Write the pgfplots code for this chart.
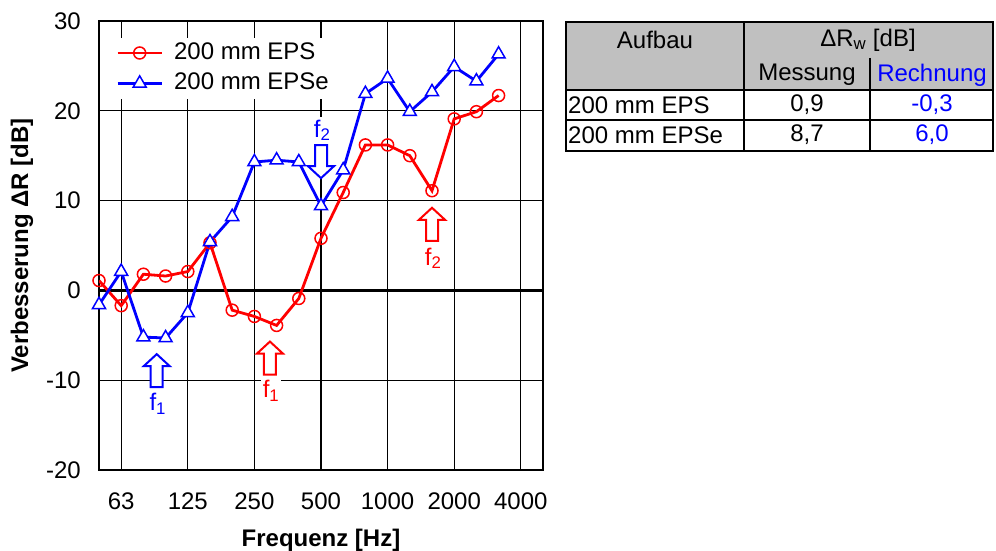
\documentclass[border=0pt]{standalone}
\usepackage{fontspec}
\setmainfont{Liberation Sans}
\usepackage{pgfplots}
\pgfplotsset{compat=1.18}
\definecolor{hdrgray}{RGB}{192,192,192}
\newcommand{\hollowup}[3]{\draw[#1, line width=2pt, fill=white, line join=miter] (axis cs:#2,#3) -- ++(-13pt,-12pt) -- ++(7pt,0pt) -- ++(0pt,-21pt) -- ++(12pt,0pt) -- ++(0pt,21pt) -- ++(7pt,0pt) -- cycle;}
\newcommand{\hollowdown}[3]{\draw[#1, line width=2pt, fill=white, line join=miter] (axis cs:#2,#3) -- ++(-13pt,12pt) -- ++(7pt,0pt) -- ++(0pt,21pt) -- ++(12pt,0pt) -- ++(0pt,-21pt) -- ++(7pt,0pt) -- cycle;}
\begin{document}
\fontsize{24}{28}\selectfont
\begin{tikzpicture}
\useasboundingbox (0,0) rectangle (996pt,551pt);
\begin{axis}[
  at={(99pt,81pt)}, anchor=south west,
  scale only axis, width=444pt, height=449pt,
  xmin=0, xmax=20, ymin=-20, ymax=30,
  xtick={1,4,7,10,13,16,19},
  xticklabels={63,125,250,500,1000,2000,4000},
  ytick={-20,-10,0,10,20,30},
  yticklabels={-20,-10,0,10,20,30},
  major tick length=0pt,
  xticklabel style={yshift=-15pt},
  yticklabel style={xshift=-10pt},
  grid=major,
  major grid style={line width=1.2pt, black},
  axis line style={line width=2.5pt},
  extra y ticks={0}, extra y tick labels={},
  extra y tick style={major grid style={line width=2.8pt, black}},
  xlabel={\bfseries Frequenz [Hz]},
  ylabel={\bfseries Verbesserung ΔR [dB]},
  every axis x label/.style={at={(axis description cs:0.5,0)}, yshift=-70pt, anchor=center},
  every axis y label/.style={at={(axis description cs:0,0.5)}, xshift=-77pt, rotate=90, anchor=center},
  legend image code/.code={\draw[mark repeat=2,mark phase=2, line width=2.8pt] plot coordinates {(0pt,0pt) (22pt,0pt) (44pt,0pt)};},
  legend style={at={(axis description cs:0.025,0.963)}, anchor=north west, draw=none, fill=white,
    inner xsep=6pt, inner ysep=3pt, row sep=6pt, column sep=9pt, cells={anchor=west}},
]
\addplot[red, line width=2.8pt, mark=o, mark size=6pt, mark options={line width=1.5pt, fill=white, solid}] coordinates {
(0,1.1) (1,-1.7) (2,1.8) (3,1.6) (4,2.1) (5,5.3) (6,-2.2) (7,-2.9) (8,-3.9) (9,-0.9)
(10,5.8) (11,10.9) (12,16.2) (13,16.2) (14,15.0) (15,11.1) (16,19.1) (17,19.9) (18,21.7)};
\addlegendentry{200 mm EPS}
\addplot[blue, line width=2.8pt, mark=triangle*, mark size=7.5pt, mark options={line width=1.5pt, fill=white, solid}] coordinates {
(0,-1.6) (1,2.1) (2,-5.2) (3,-5.3) (4,-2.5) (5,5.4) (6,8.2) (7,14.3) (8,14.5) (9,14.3)
(10,9.4) (11,13.4) (12,21.9) (13,23.6) (14,19.9) (15,22.1) (16,24.9) (17,23.3) (18,26.3)};
\addlegendentry{200 mm EPSe}
% annotations
\hollowup{blue}{2.6}{-7.1}
\node[blue, fill=white, inner sep=2pt, anchor=north] at (axis cs:2.65,-11.2) {f\textsubscript{1}};
\hollowup{red}{7.7}{-5.7}
\node[red, fill=white, inner sep=2pt, anchor=north] at (axis cs:7.75,-9.8) {f\textsubscript{1}};
\hollowup{red}{15.0}{9.2}
\node[red, fill=white, inner sep=2pt, anchor=north] at (axis cs:15.05,5.0) {f\textsubscript{2}};
\hollowdown{blue}{10.0}{12.5}
\node[blue, fill=white, inner sep=3pt, anchor=south] at (axis cs:10.05,16.3) {f\textsubscript{2}};
\end{axis}
% table (image px -> pt: y = 551 - y_img)
\fill[hdrgray] (566pt,529pt) rectangle (993pt,461pt);
\draw[line width=2.5pt] (566pt,529pt) rectangle (993pt,400pt);
\draw[line width=2.5pt] (566pt,461pt) -- (993pt,461pt);
\draw[line width=2.5pt] (566pt,431pt) -- (993pt,431pt);
\draw[line width=2.5pt] (744pt,529pt) -- (744pt,400pt);
\draw[line width=2.5pt] (870pt,493pt) -- (870pt,400pt);
\node at (655pt,511pt) {Aufbau};
\node at (868pt,511pt) {ΔR\textsubscript{w} [dB]};
\node at (807pt,476pt) {Messung};
\node[blue] at (932pt,476pt) {Rechnung};
\node[anchor=west, inner sep=0pt] at (568pt,446pt) {200 mm EPS};
\node at (807pt,446pt) {0,9};
\node[blue] at (932pt,446pt) {-0,3};
\node[anchor=west, inner sep=0pt] at (568pt,416pt) {200 mm EPSe};
\node at (807pt,416pt) {8,7};
\node[blue] at (932pt,416pt) {6,0};
\end{tikzpicture}
\end{document}
